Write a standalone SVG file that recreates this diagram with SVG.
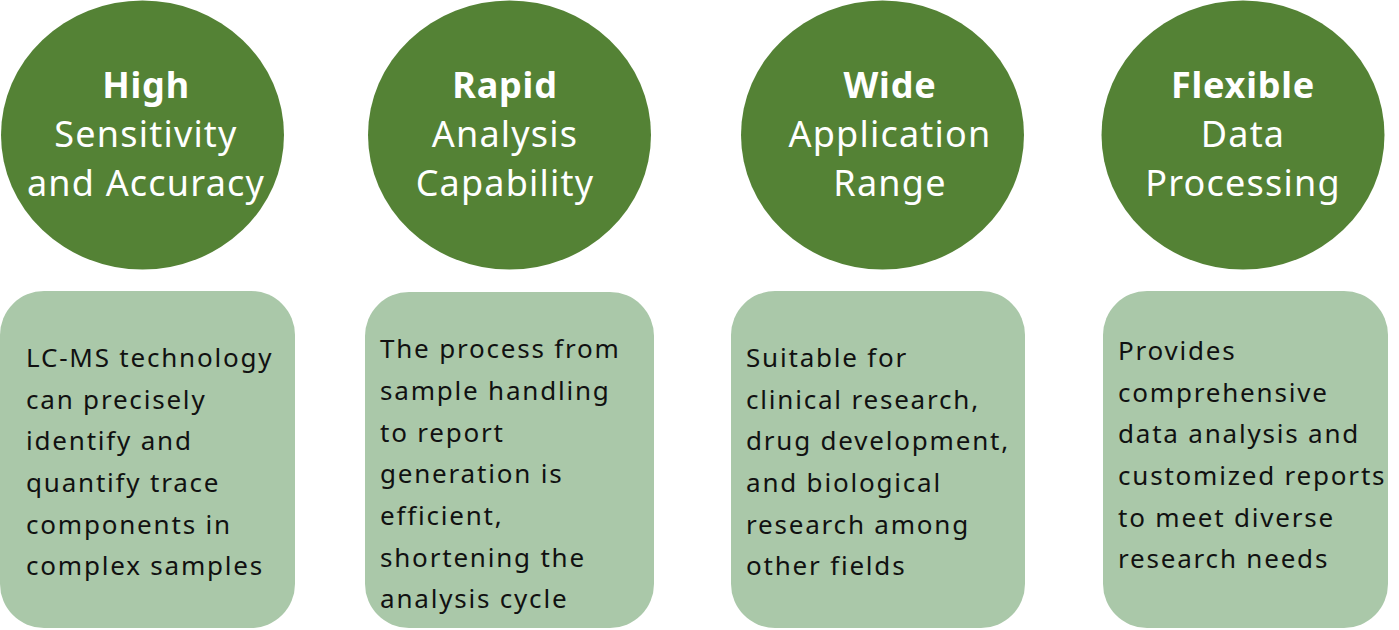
<svg xmlns="http://www.w3.org/2000/svg" width="1399" height="630" viewBox="0 0 1399 630">
<style>
.c{fill:#548235}
.b{fill:#AAC8A9}
.t{font-family:"Noto Sans","Open Sans",sans-serif;font-size:36px;fill:#fff;text-anchor:middle;letter-spacing:1.2px}
.tb{font-weight:bold;letter-spacing:0.8px}
.d{font-family:"Noto Sans","Open Sans",sans-serif;font-size:26px;fill:#111;letter-spacing:1.8px}
</style>
<rect width="1399" height="630" fill="#fff"/>
<g id="node1">
<ellipse class="c" cx="142.5" cy="135" rx="141.5" ry="134.5"/>
<text class="t tb" x="146" y="98">High</text>
<text class="t" x="146" y="147">Sensitivity</text>
<text class="t" x="146" y="196">and Accuracy</text>
</g>
<g id="node2">
<ellipse class="c" cx="509.5" cy="135" rx="141.5" ry="134.5"/>
<text class="t tb" x="505" y="98">Rapid</text>
<text class="t" x="505" y="147">Analysis</text>
<text class="t" x="505" y="196">Capability</text>
</g>
<g id="node3">
<ellipse class="c" cx="882.5" cy="135" rx="141.5" ry="134.5"/>
<text class="t tb" x="890" y="98">Wide</text>
<text class="t" x="890" y="147">Application</text>
<text class="t" x="890" y="196">Range</text>
</g>
<g id="node4">
<ellipse class="c" cx="1243" cy="135" rx="141.5" ry="134.5"/>
<text class="t tb" x="1243" y="98">Flexible</text>
<text class="t" x="1243" y="147">Data</text>
<text class="t" x="1243" y="196">Processing</text>
</g>
<g id="box1">
<rect class="b" x="0" y="291" width="295" height="337" rx="44"/>
<text class="d" x="26" y="367">LC-MS technology</text>
<text class="d" x="26" y="408.5">can precisely</text>
<text class="d" x="26" y="450">identify and</text>
<text class="d" x="26" y="492">quantify trace</text>
<text class="d" x="26" y="533.5">components in</text>
<text class="d" x="26" y="575">complex samples</text>
</g>
<g id="box2">
<rect class="b" x="365" y="292" width="289" height="336" rx="44"/>
<text class="d" x="380" y="358">The process from</text>
<text class="d" x="380" y="400">sample handling</text>
<text class="d" x="380" y="441.5">to report</text>
<text class="d" x="380" y="483">generation is</text>
<text class="d" x="380" y="525">efficient,</text>
<text class="d" x="380" y="566.5">shortening the</text>
<text class="d" x="380" y="608">analysis cycle</text>
</g>
<g id="box3">
<rect class="b" x="731" y="291" width="294" height="337" rx="44"/>
<text class="d" x="746" y="367">Suitable for</text>
<text class="d" x="746" y="408.5">clinical research,</text>
<text class="d" x="746" y="450">drug development,</text>
<text class="d" x="746" y="492">and biological</text>
<text class="d" x="746" y="533.5">research among</text>
<text class="d" x="746" y="575">other fields</text>
</g>
<g id="box4">
<rect class="b" x="1103" y="291" width="285" height="337" rx="44"/>
<text class="d" x="1118" y="360">Provides</text>
<text class="d" x="1118" y="401.5">comprehensive</text>
<text class="d" x="1118" y="443">data analysis and</text>
<text class="d" x="1118" y="485">customized reports</text>
<text class="d" x="1118" y="526.5">to meet diverse</text>
<text class="d" x="1118" y="568">research needs</text>
</g>
<g id="connectors"/>
</svg>
